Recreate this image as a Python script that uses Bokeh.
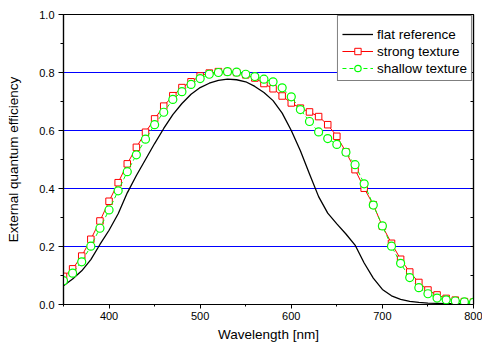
from bokeh.plotting import figure
from bokeh.models import (Range1d, FixedTicker, LinearAxis, PrintfTickFormatter,
                          CustomJSTickFormatter, Legend, LegendItem, ColumnDataSource)
from bokeh.embed import file_html
from bokeh.resources import INLINE

# ---- data ----
wavelength = [350, 360, 370, 380, 390, 400, 410, 420, 430, 440,
              450, 460, 470, 480, 490, 500, 510, 520, 530, 540,
              550, 560, 570, 580, 590, 600, 610, 620, 630, 640,
              650, 660, 670, 680, 690, 700, 710, 720, 730, 740,
              750, 760, 770, 780, 790, 800]

flat_reference = [0.065, 0.088, 0.116, 0.155, 0.207, 0.256, 0.313, 0.385, 0.445, 0.500,
                  0.555, 0.607, 0.655, 0.693, 0.725, 0.748, 0.763, 0.773, 0.777, 0.775,
                  0.768, 0.752, 0.731, 0.703, 0.660, 0.600, 0.530, 0.450, 0.372, 0.315,
                  0.278, 0.243, 0.205, 0.143, 0.091, 0.052, 0.030, 0.018, 0.011, 0.007,
                  0.005, 0.004, 0.003, 0.003, 0.002, 0.002]

strong_texture = [0.097, 0.123, 0.167, 0.225, 0.288, 0.356, 0.420, 0.485, 0.542, 0.594,
                  0.640, 0.684, 0.720, 0.748, 0.768, 0.788, 0.798, 0.803, 0.803, 0.800,
                  0.792, 0.781, 0.762, 0.744, 0.719, 0.695, 0.677, 0.664, 0.648, 0.620,
                  0.580, 0.526, 0.465, 0.401, 0.344, 0.270, 0.211, 0.156, 0.112, 0.076,
                  0.050, 0.033, 0.021, 0.015, 0.010, 0.008]

shallow_texture = [0.082, 0.108, 0.147, 0.201, 0.263, 0.326, 0.392, 0.458, 0.516, 0.570,
                   0.620, 0.663, 0.707, 0.734, 0.759, 0.779, 0.794, 0.800, 0.803, 0.801,
                   0.794, 0.786, 0.777, 0.768, 0.747, 0.716, 0.672, 0.631, 0.595, 0.572,
                   0.552, 0.525, 0.482, 0.416, 0.343, 0.271, 0.201, 0.142, 0.093, 0.058,
                   0.037, 0.022, 0.016, 0.012, 0.009, 0.007]

series_labels = ["flat reference", "strong texture", "shallow texture"]
x_major_ticks = [400, 500, 600, 700, 800]
x_minor_ticks = [350, 450, 550, 650, 750]
y_major_ticks = [0.0, 0.2, 0.4, 0.6, 0.8, 1.0]
y_minor_ticks = [0.1, 0.3, 0.5, 0.7, 0.9]
grid_levels = [0.2, 0.4, 0.6, 0.8]
x_label = "Wavelength [nm]"
y_label = "External quantum efficiency"

FONT = "Liberation Sans"

src = ColumnDataSource(dict(x=wavelength, flat=flat_reference,
                            strong=strong_texture, shallow=shallow_texture))

# frame 410 x 290 px: every 0.2 step lands on a whole pixel row
p = figure(width=482, height=345, output_backend="svg", toolbar_location=None,
           x_range=Range1d(350, 800), y_range=Range1d(0, 1),
           min_border_left=63, min_border_right=9, min_border_top=14,
           min_border_bottom=41)
p.background_fill_color = "white"
p.border_fill_color = "white"
p.outline_line_color = "black"
p.outline_line_width = 1.2
p.outline_line_alpha = 1.0

# axes
xa = p.xaxis[0]
xa.ticker = FixedTicker(ticks=x_major_ticks, minor_ticks=x_minor_ticks)
xa.axis_label = x_label
ya = p.yaxis[0]
ya.ticker = FixedTicker(ticks=y_major_ticks, minor_ticks=y_minor_ticks)
ya.formatter = PrintfTickFormatter(format="%.1f")
ya.axis_label = y_label
for ax in (xa, ya):
    ax.axis_line_color = "black"
    ax.axis_line_width = 1.2
    ax.major_tick_line_color = "black"
    ax.minor_tick_line_color = "black"
    ax.major_tick_in = 0
    ax.major_tick_out = 4
    ax.minor_tick_in = 0
    ax.minor_tick_out = 2
    ax.major_label_text_font = FONT
    ax.major_label_text_font_size = "11px"
    ax.major_label_text_color = "black"
    ax.axis_label_text_font = FONT
    ax.axis_label_text_font_size = "13.5px"
    ax.axis_label_text_font_style = "normal"
    ax.axis_label_text_color = "black"
    ax.major_label_standoff = 4
ya.major_tick_out = 5
ya.minor_tick_out = 3
ya.axis_label_standoff = 15
xa.major_label_standoff = 3
xa.axis_label_standoff = 4

ra = LinearAxis(ticker=FixedTicker(ticks=y_major_ticks, minor_ticks=y_minor_ticks),
                formatter=CustomJSTickFormatter(code="return ''"),
                major_label_standoff=0,
                major_tick_in=3, major_tick_out=0, minor_tick_in=3, minor_tick_out=0,
                axis_line_color="black", axis_line_width=1.2)
p.add_layout(ra, "right")

# grid: blue horizontal lines only
p.xgrid.visible = False
p.ygrid.ticker = FixedTicker(ticks=grid_levels)
p.ygrid.grid_line_color = "#0000ff"
p.ygrid.grid_line_width = 1
p.ygrid.grid_line_alpha = 1.0

# series
r_flat = p.line("x", "flat", source=src, line_color="black", line_width=1.3)
r_strong_l = p.line("x", "strong", source=src, line_color="#ff0000", line_width=1)
r_strong_m = p.scatter("x", "strong", source=src, marker="square", size=6.5,
                       line_color="#ff0000", fill_color="white", line_width=1)
r_shallow_l = p.line("x", "shallow", source=src, line_color="#00ff00", line_width=1,
                     line_dash="4 3")
r_shallow_m = p.scatter("x", "shallow", source=src, marker="circle", size=8,
                        line_color="#00ff00", fill_color="white", line_width=1.2)

legend = Legend(items=[
    LegendItem(label=series_labels[0], renderers=[r_flat]),
    LegendItem(label=series_labels[1], renderers=[r_strong_l, r_strong_m]),
    LegendItem(label=series_labels[2], renderers=[r_shallow_l, r_shallow_m]),
], location="top_right", margin=1)
legend.title = " "
legend.title_text_font_size = "6px"
legend.title_standoff = 0
legend.padding = 4
legend.spacing = 1
legend.label_height = 16
legend.glyph_height = 16
legend.glyph_width = 31
legend.label_standoff = 4
legend.label_text_font = FONT
legend.label_text_font_size = "13.5px"
legend.label_text_color = "black"
legend.border_line_color = "black"
legend.border_line_width = 1
legend.background_fill_color = "white"
legend.background_fill_alpha = 1.0
p.add_layout(legend, "center")

open("out.html", "w").write(file_html(p, INLINE))
